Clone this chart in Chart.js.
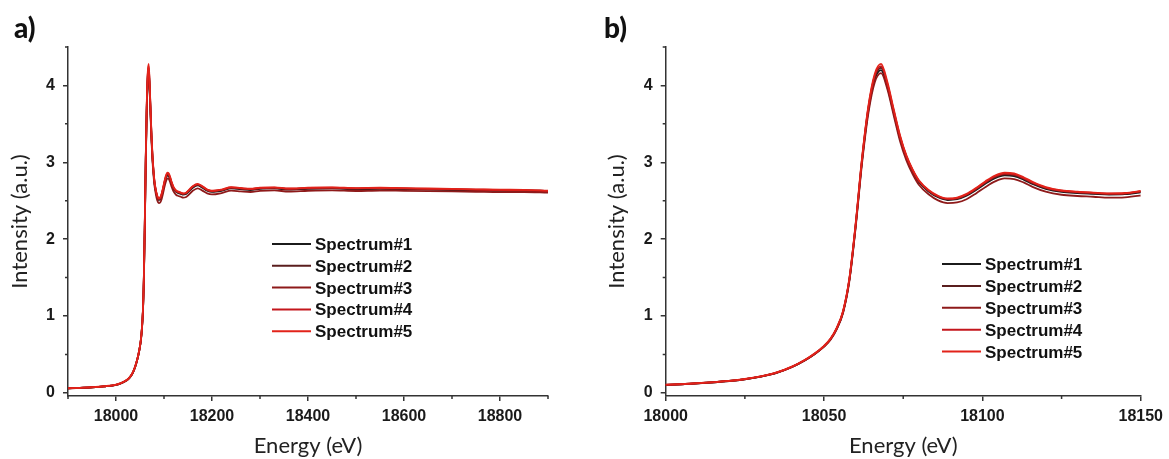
<!DOCTYPE html>
<html>
<head>
<meta charset="utf-8">
<script src="https://cdn.jsdelivr.net/npm/chart.js@4.4.1/dist/chart.umd.min.js"></script>
<style>
  html, body { margin: 0; padding: 0; background: #fff; }
  #wrap { position: relative; width: 1169px; height: 459px; overflow: hidden; }
  canvas { position: absolute; top: 0; }
  #chartA { left: 0; }
  #chartB { left: 597px; }
  .panel { position: absolute; font-family: Lato, "Open Sans", sans-serif; font-weight: 900;
           font-size: 28px; line-height: 1; color: #111; }
</style>
</head>
<body>
<div id="wrap">
  <canvas id="chartA" width="570" height="459"></canvas>
  <canvas id="chartB" width="572" height="459"></canvas>
  <div class="panel" style="left:14px; top:13px;">a)</div>
  <div class="panel" style="left:604px; top:13px;">b)</div>
</div>
<script>
// Photon energy grid (eV), shared by all five spectra
const energy = [
  17900, 17925, 17950, 17975, 18000,
  18010, 18020, 18025, 18030, 18035,
  18040, 18044, 18047, 18050, 18052,
  18054, 18056, 18058, 18060, 18062,
  18064, 18066, 18068, 18070, 18072,
  18074, 18076, 18078, 18080, 18083,
  18086, 18089, 18092, 18095, 18098,
  18101, 18104, 18107, 18110, 18113,
  18116, 18120, 18125, 18130, 18135,
  18140, 18145, 18150, 18160, 18170,
  18180, 18190, 18200, 18220, 18240,
  18260, 18280, 18300, 18330, 18360,
  18400, 18450, 18500, 18550, 18600,
  18650, 18700, 18750, 18800, 18850,
  18900
];

// Normalised intensity (a.u.) of each spectrum on the grid above
const spectrum1 = [
  0.060, 0.066, 0.073, 0.085, 0.105,
  0.125, 0.155, 0.178, 0.212, 0.262,
  0.340, 0.425, 0.505, 0.605, 0.695,
  0.835, 1.050, 1.470, 2.180, 3.020,
  3.680, 4.080, 4.200, 3.980, 3.640,
  3.310, 3.060, 2.880, 2.740, 2.620,
  2.545, 2.510, 2.520, 2.565, 2.640,
  2.725, 2.795, 2.830, 2.820, 2.775,
  2.715, 2.655, 2.615, 2.600, 2.590,
  2.580, 2.585, 2.610, 2.670, 2.700,
  2.670, 2.630, 2.615, 2.630, 2.660,
  2.650, 2.640, 2.655, 2.660, 2.645,
  2.655, 2.660, 2.650, 2.655, 2.650,
  2.645, 2.640, 2.635, 2.630, 2.630,
  2.620
];
const spectrum2 = [
  0.060, 0.066, 0.074, 0.086, 0.106,
  0.126, 0.156, 0.179, 0.213, 0.263,
  0.341, 0.427, 0.507, 0.607, 0.698,
  0.838, 1.054, 1.476, 2.190, 3.035,
  3.700, 4.105, 4.230, 4.005, 3.660,
  3.325, 3.070, 2.890, 2.750, 2.628,
  2.552, 2.518, 2.528, 2.574, 2.650,
  2.736, 2.806, 2.842, 2.832, 2.786,
  2.726, 2.664, 2.624, 2.608, 2.597,
  2.588, 2.592, 2.618, 2.678, 2.708,
  2.678, 2.638, 2.622, 2.638, 2.668,
  2.657, 2.648, 2.662, 2.667, 2.652,
  2.661, 2.666, 2.657, 2.661, 2.656,
  2.651, 2.646, 2.641, 2.636, 2.636,
  2.626
];
const spectrum3 = [
  0.059, 0.065, 0.072, 0.084, 0.104,
  0.124, 0.154, 0.177, 0.211, 0.261,
  0.339, 0.424, 0.503, 0.602, 0.690,
  0.828, 1.040, 1.455, 2.160, 2.990,
  3.640, 4.040, 4.160, 3.950, 3.610,
  3.275, 3.025, 2.845, 2.705, 2.585,
  2.505, 2.470, 2.478, 2.520, 2.595,
  2.680, 2.752, 2.790, 2.782, 2.738,
  2.678, 2.618, 2.578, 2.562, 2.552,
  2.540, 2.545, 2.568, 2.630, 2.662,
  2.632, 2.595, 2.582, 2.600, 2.632,
  2.622, 2.614, 2.628, 2.634, 2.620,
  2.630, 2.636, 2.627, 2.633, 2.629,
  2.625, 2.621, 2.617, 2.613, 2.614,
  2.606
];
const spectrum4 = [
  0.061, 0.067, 0.074, 0.086, 0.106,
  0.126, 0.157, 0.180, 0.214, 0.265,
  0.343, 0.429, 0.510, 0.610, 0.702,
  0.843, 1.060, 1.485, 2.200, 3.045,
  3.715, 4.125, 4.250, 4.020, 3.672,
  3.335, 3.078, 2.896, 2.756, 2.634,
  2.558, 2.524, 2.535, 2.582, 2.658,
  2.745, 2.816, 2.853, 2.842, 2.795,
  2.734, 2.671, 2.630, 2.613, 2.602,
  2.592, 2.597, 2.623, 2.684, 2.714,
  2.684, 2.642, 2.626, 2.642, 2.672,
  2.662, 2.652, 2.666, 2.671, 2.656,
  2.666, 2.670, 2.661, 2.665, 2.660,
  2.655, 2.650, 2.645, 2.640, 2.639,
  2.629
];
const spectrum5 = [
  0.061, 0.067, 0.075, 0.087, 0.107,
  0.127, 0.158, 0.181, 0.215, 0.266,
  0.345, 0.431, 0.512, 0.613, 0.705,
  0.847, 1.066, 1.492, 2.212, 3.060,
  3.735, 4.150, 4.280, 4.045, 3.690,
  3.350, 3.090, 2.905, 2.764, 2.641,
  2.565, 2.530, 2.542, 2.590, 2.667,
  2.755, 2.828, 2.866, 2.855, 2.806,
  2.743, 2.678, 2.636, 2.618, 2.606,
  2.596, 2.601, 2.628, 2.690, 2.720,
  2.689, 2.646, 2.630, 2.646, 2.677,
  2.666, 2.656, 2.670, 2.675, 2.660,
  2.670, 2.674, 2.665, 2.669, 2.664,
  2.659, 2.654, 2.649, 2.644, 2.642,
  2.632
];

const seriesNames  = ["Spectrum#1", "Spectrum#2", "Spectrum#3", "Spectrum#4", "Spectrum#5"];
const seriesColors = ["#1b1b1b", "#5a1e1e", "#8e1a1a", "#c4161c", "#e2231a"];
const spectra = [spectrum1, spectrum2, spectrum3, spectrum4, spectrum5];

// Axis ticks
const xMajorA = [18000, 18200, 18400, 18600, 18800];
const xMinorA = [17900, 18100, 18300, 18500, 18700, 18900];
const xMajorB = [18000, 18050, 18100, 18150];
const xMinorB = [18025, 18075, 18125];
const yMajor  = [0, 1, 2, 3, 4];
const yMinor  = [0.5, 1.5, 2.5, 3.5, 4.5];

const AXIS = "#333333";
const TICK_FONT = "'Liberation Sans', Arial, sans-serif";
const TITLE_FONT = "Lato, 'Open Sans', sans-serif";

// Short unlabeled tick marks between the labelled ones
const minorTicksPlugin = {
  id: "minorTicks",
  afterDraw(chart, args, opts) {
    const { ctx } = chart;
    const xs = chart.scales.x, ys = chart.scales.y;
    ctx.save();
    ctx.strokeStyle = AXIS;
    ctx.lineWidth = 1.5;
    ctx.beginPath();
    (opts.x || []).forEach(v => {
      const px = xs.getPixelForValue(v);
      ctx.moveTo(px, xs.top);
      ctx.lineTo(px, xs.top + 3);
    });
    (opts.y || []).forEach(v => {
      const py = ys.getPixelForValue(v);
      ctx.moveTo(ys.right, py);
      ctx.lineTo(ys.right - 3, py);
    });
    ctx.stroke();
    ctx.restore();
  }
};

// Legend box placed inside the plot area
const insideLegendPlugin = {
  id: "insideLegend",
  afterDraw(chart, args, opts) {
    const { ctx } = chart;
    ctx.save();
    ctx.font = "bold 17px " + TICK_FONT;
    ctx.fillStyle = "#111";
    ctx.textBaseline = "alphabetic";
    chart.data.datasets.forEach((ds, i) => {
      const y = opts.y0 + i * opts.rowH;
      ctx.strokeStyle = ds.borderColor;
      ctx.lineWidth = 2;
      ctx.beginPath();
      ctx.moveTo(opts.x0, y);
      ctx.lineTo(opts.x1, y);
      ctx.stroke();
      ctx.fillText(ds.label, opts.textX, y + 6);
    });
    ctx.restore();
  }
};

function buildChart(canvasId, cfg) {
  const datasets = spectra.map((s, i) => ({
    label: seriesNames[i],
    data: energy.map((e, k) => ({ x: e, y: s[k] })),
    borderColor: seriesColors[i],
    borderWidth: 1.8,
    pointRadius: 0,
    fill: false,
    cubicInterpolationMode: "monotone",
    order: spectra.length - 1 - i
  }));

  return new Chart(document.getElementById(canvasId), {
    type: "line",
    data: { datasets },
    options: {
      responsive: false,
      animation: false,
      devicePixelRatio: 1,
      layout: { padding: { top: 47, right: cfg.padRight, left: 0, bottom: 0 } },
      plugins: {
        legend: { display: false },
        tooltip: { enabled: false },
        minorTicks: { x: cfg.xMinor, y: yMinor },
        insideLegend: cfg.legend
      },
      scales: {
        x: {
          type: "linear",
          min: cfg.xMin,
          max: cfg.xMax,
          afterBuildTicks: s => { s.ticks = cfg.xMajor.map(v => ({ value: v })); },
          afterFit: s => { s.height = 63; },
          grid: { display: true, drawOnChartArea: false, drawTicks: true, tickLength: 5,
                  color: AXIS, lineWidth: 1.5 },
          border: { display: true, color: AXIS, width: 1.5 },
          ticks: { font: { family: TICK_FONT, size: 16, weight: "bold" }, color: "#1a1a1a",
                   padding: 6, maxRotation: 0, autoSkip: false, callback: v => String(v) },
          title: { display: true, text: "Energy (eV)", color: "#222",
                   font: { family: TITLE_FONT, size: 22 }, padding: { top: 0, bottom: 0 } }
        },
        y: {
          type: "linear",
          min: -0.04,
          max: 4.5,
          afterBuildTicks: s => { s.ticks = yMajor.map(v => ({ value: v })); },
          afterFit: s => { s.width = cfg.yWidth; },
          grid: { display: true, drawOnChartArea: false, drawTicks: true, tickLength: 5,
                  color: AXIS, lineWidth: 1.5 },
          border: { display: true, color: AXIS, width: 1.5 },
          ticks: { font: { family: TICK_FONT, size: 16, weight: "bold" }, color: "#1a1a1a",
                   padding: 8, callback: v => String(v) },
          title: { display: true, text: "Intensity (a.u.)", color: "#222",
                   font: { family: TITLE_FONT, size: 22 }, padding: { top: 7, bottom: 0 } }
        }
      }
    },
    plugins: [minorTicksPlugin, insideLegendPlugin]
  });
}

// a) full scan
buildChart("chartA", {
  xMin: 17900, xMax: 18900, xMajor: xMajorA, xMinor: xMinorA,
  yWidth: 68, padRight: 22,
  legend: { x0: 272, x1: 311, textX: 315, y0: 244, rowH: 21.8 }
});

// b) edge region
buildChart("chartB", {
  xMin: 18000, xMax: 18150, xMajor: xMajorB, xMinor: xMinorB,
  yWidth: 68.7, padRight: 27.5,
  legend: { x0: 345, x1: 384, textX: 388, y0: 264, rowH: 21.9 }
});
</script>
</body>
</html>
